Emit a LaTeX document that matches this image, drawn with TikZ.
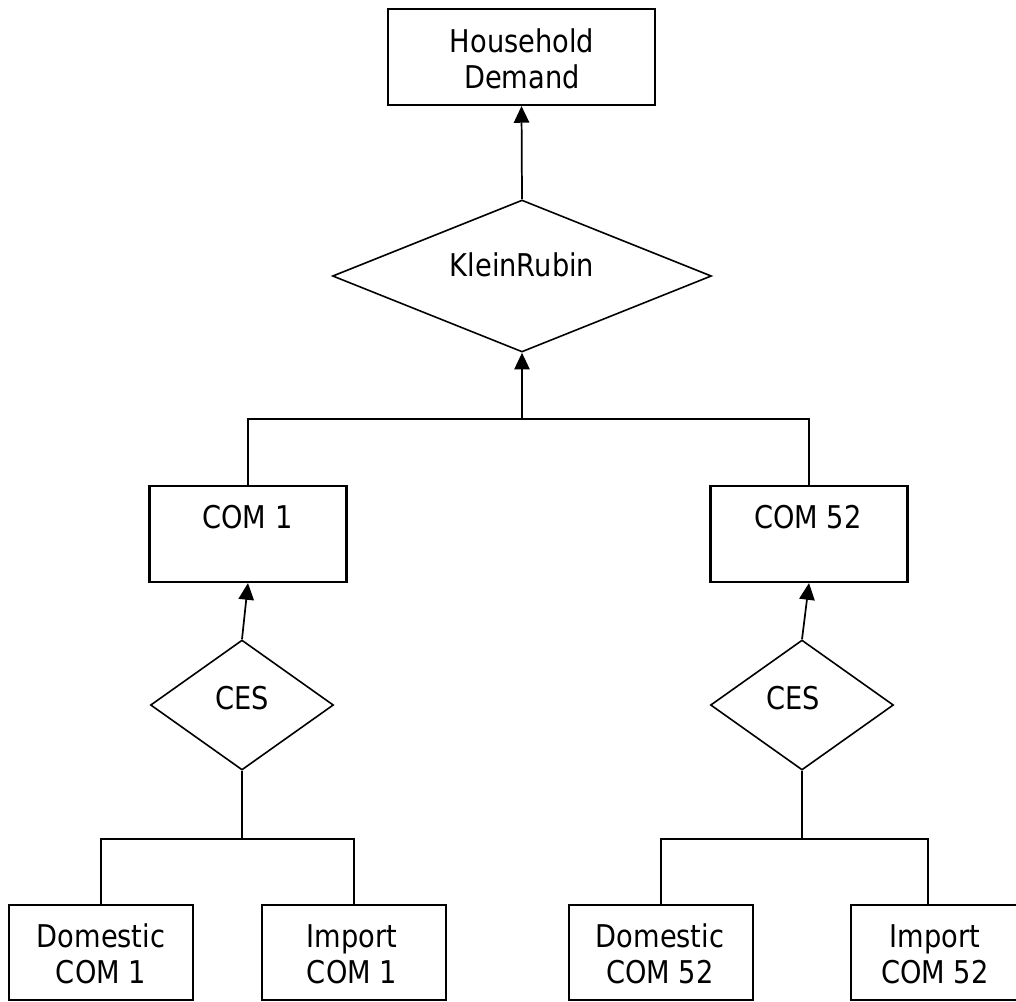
\documentclass[tikz,border=0pt]{standalone}
\usepackage{fontspec}
\setmainfont[FakeStretch=0.87]{DejaVu Sans}
\usetikzlibrary{shapes.geometric,arrows.meta}

\begin{document}
\begin{tikzpicture}[x=0.75pt,y=-0.75pt,
  box/.style={draw, line width=1.6pt, rectangle, inner sep=0pt},
  dia/.style={draw, line width=1.2pt, diamond, inner sep=0pt},
  lbl/.style={font=\fontsize{23.5pt}{27pt}\selectfont, align=center, inner sep=0pt},
  link/.style={line width=1.3pt},
  arr/.style={line width=1.3pt, -{Triangle[length=12.5pt,width=11.5pt]}}
]
\useasboundingbox (0,0) rectangle (1016,1001);

% top level
\node[box, minimum width=200.25pt, minimum height=72pt] (hd) at (521.5,57) {};
\node[lbl] (hdt) at (522,59) {Household\\Demand};

\node[dia, minimum width=284.25pt, minimum height=114pt] (kr) at (522,276) {};
\node[lbl] (krt) at (522,264.5) {KleinRubin};

% commodity composites
\node[box, minimum width=147.75pt, minimum height=72pt] (com1) at (248,534) {};
\node[lbl] (com1t) at (247.5,517.5) {COM 1};
\node[box, minimum width=147.75pt, minimum height=72pt] (com52) at (809,534) {};
\node[lbl] (com52t) at (808,517.5) {COM 52};

% CES nests
\node[dia, minimum width=137.25pt, minimum height=97.5pt] (ces1) at (242,705) {};
\node[lbl] (ces1t) at (242,698) {CES};
\node[dia, minimum width=137.25pt, minimum height=97.5pt] (ces52) at (802,705) {};
\node[lbl] (ces52t) at (793,698) {CES};

% sources
\node[box, minimum width=138pt, minimum height=71.25pt] (dom1) at (101,952.5) {};
\node[lbl] (dom1t) at (101,954) {Domestic\\COM 1};
\node[box, minimum width=138pt, minimum height=71.25pt] (imp1) at (354,952.5) {};
\node[lbl] (imp1t) at (352,954) {Import\\COM 1};
\node[box, minimum width=138pt, minimum height=71.25pt] (dom52) at (661,952.5) {};
\node[lbl] (dom52t) at (660,954) {Domestic\\COM 52};
\node[box, minimum width=138pt, minimum height=71.25pt] (imp52) at (943,952.5) {};
\node[lbl] (imp52t) at (935,954) {Import\\COM 52};

% connectors
\coordinate (top) at (522,419);
\coordinate (j1) at (242,839);
\coordinate (j2) at (802,839);

\draw[arr] (kr.north) -- (hd.south);
\draw[link] (com1.north) |- (top) -| (com52.north);
\draw[arr] (top) -- (kr.south);

\draw[arr] (ces1.north) -- (com1.south);
\draw[arr] (ces52.north) -- (com52.south);

\draw[link] (ces1.south) -- (j1);
\draw[link] (dom1.north) |- (j1) -| (imp1.north);
\draw[link] (ces52.south) -- (j2);
\draw[link] (dom52.north) |- (j2) -| ([xshift=-11.25pt]imp52.north);
\end{tikzpicture}
\end{document}
